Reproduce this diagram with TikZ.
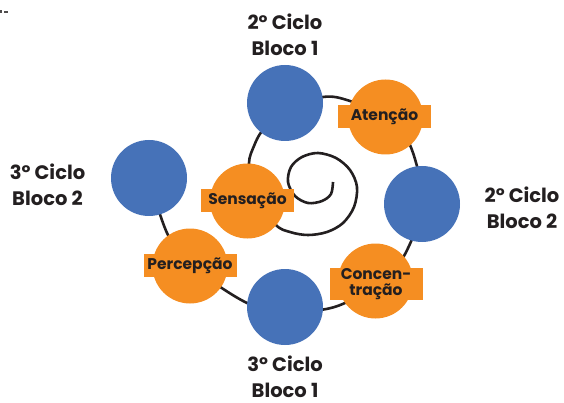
\documentclass[tikz,border=0pt]{standalone}
\usepackage{fontspec}
\setmainfont{Poppins}
\usetikzlibrary{backgrounds}
\definecolor{cblue}{RGB}{70,114,184}
\definecolor{corange}{RGB}{245,142,34}
\definecolor{ctext}{RGB}{35,31,32}
\begin{document}
\begin{tikzpicture}[x=1pt,y=-1pt,
  bluec/.style={circle,fill=cblue,minimum size=76pt,inner sep=0pt},
  orangec/.style={circle,fill=corange,minimum size=75pt,inner sep=0pt},
  tag/.style={fill=corange,minimum width=93pt,minimum height=23pt,inner sep=0pt,text=ctext,
    font=\fontsize{15.5}{15.5}\selectfont\bfseries,align=center},
  title/.style={text=ctext,font=\fontsize{19.5}{26}\selectfont\bfseries,align=center,inner sep=0pt},
  spiral/.style={draw=ctext,line width=2.6pt}]
\useasboundingbox (0,0) rectangle (564,403);
% artifact top-left
\fill[ctext!80] (0,9.8) rectangle (2.2,13);
\fill[ctext!80] (3.6,11.3) rectangle (8.4,12.7);
% blue circles
\node[bluec] (b1) at (285,103) {};
\node[bluec] (b2) at (422,204) {};
\node[bluec] (b3) at (285,307) {};
\node[bluec] (b4) at (149,178) {};
% orange circles
\node[orangec] (o1) at (247.5,201) {};
\node[orangec] (o2) at (385.5,117) {};
\node[orangec] (o3) at (375.5,281) {};
\node[orangec] (o4) at (190,266) {};
% tags
\node[tag] (t1) at (247.5,201) {Sensação};
\node[tag] (t2) at (384.5,117) {Atenção};
\node[tag,minimum height=32pt] (t3) at (376,284) {Concen-\\tração};
\node[tag] (t4) at (190,265.5) {Percepção};
% titles
\node[title] (l1) at (285,35) {2º Ciclo\\Bloco 1};
\node[title] (l2) at (522,208) {2º Ciclo\\Bloco 2};
\node[title] (l3) at (285,377) {3º Ciclo\\Bloco 1};
\node[title] (l4) at (47.5,185) {3º Ciclo\\Bloco 2};
% spiral way points (hidden under the circles)
\coordinate (tip) at (333,182);
\coordinate (w1) at (253,191);
\coordinate (w2) at (281,111);
\coordinate (w3) at (384,116);
\coordinate (w4) at (422,203);
\coordinate (w5) at (378,284);
\coordinate (w6) at (284,311);
\coordinate (w7) at (196,269);
\begin{pgfonlayer}{background}
\draw[spiral] plot[smooth,tension=0.55] coordinates {(tip) (331,194) (322,201) (308,203) (295,196) (288,182) (291,167) (302,157) (318,153) (336,158) (350,170) (357,187) (354,207) (343,223) (327,232) (308,235) (290,232) (275,224) (w1) (249,163) (254,146) (262,131) (w2) (323,97) (350,101) (w3) (410,145) (w4) (404,256) (w5) (345,303) (320,310) (w6) (247,303) (w7) (168,235) (b4.center)};
\end{pgfonlayer}
\end{tikzpicture}
\end{document}
